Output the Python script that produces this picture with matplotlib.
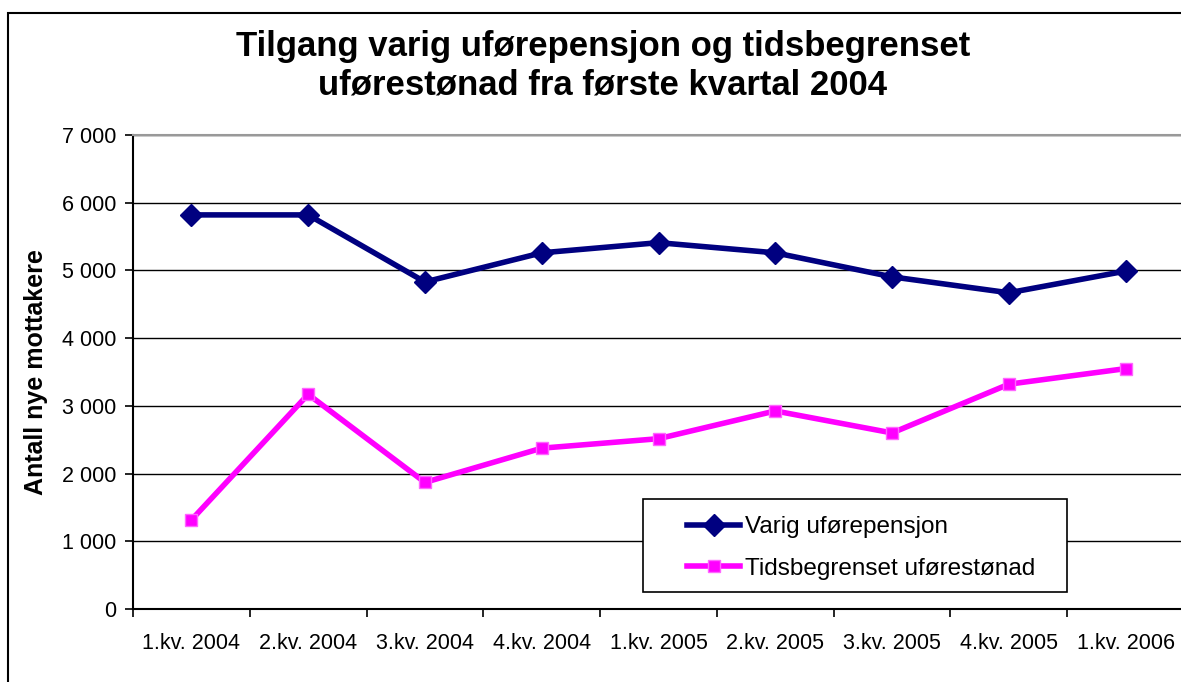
import matplotlib.pyplot as plt
from matplotlib.patches import Rectangle

plt.rcParams['font.family'] = ['Liberation Sans', 'DejaVu Sans']

quarters = ['1.kv. 2004', '2.kv. 2004', '3.kv. 2004', '4.kv. 2004', '1.kv. 2005',
            '2.kv. 2005', '3.kv. 2005', '4.kv. 2005', '1.kv. 2006']
varig = [5820, 5820, 4830, 5260, 5410, 5260, 4905, 4670, 4990]
tidsbegrenset = [1315, 3170, 1870, 2375, 2515, 2925, 2600, 3320, 3550]
y_ticks = [0, 1000, 2000, 3000, 4000, 5000, 6000, 7000]
y_labels = ['0', '1 000', '2 000', '3 000', '4 000', '5 000', '6 000', '7 000']

W, H = 1181, 682
fig = plt.figure(figsize=(W / 100, H / 100), dpi=100)

# outer chart border (cut off at right and bottom)
fig.patches.append(Rectangle((8 / W, -0.05), 1.2, 1 - 13 / H + 0.05,
                             transform=fig.transFigure, fill=False,
                             edgecolor='black', linewidth=1.5))

ax_l, ax_r, ax_t, ax_b = 133, 1184, 135, 609
ax = fig.add_axes([ax_l / W, (H - ax_b) / H, (ax_r - ax_l) / W, (ax_b - ax_t) / H])

x = list(range(len(quarters)))
ax.plot(x, varig, color='#000080', linewidth=4, marker='D', markersize=11,
        label='Varig uførepensjon', zorder=4)
ax.plot(x, tidsbegrenset, color='#FF00FF', linewidth=4, marker='s', markersize=9,
        markeredgecolor='#FF66FF', markeredgewidth=1, label='Tidsbegrenset uførestønad', zorder=4)

ax.set_xlim(-0.5, len(quarters) - 0.5)
ax.set_ylim(0, 7000)
ax.set_yticks(y_ticks)
ax.set_yticklabels(y_labels, fontsize=15.5)
ax.set_xticks(x)
ax.set_xticklabels(quarters, fontsize=15.5)
ax.set_xticks([i - 0.5 for i in range(len(quarters) + 1)], minor=True)
ax.tick_params(axis='x', which='major', length=0, pad=17)
ax.tick_params(axis='x', which='minor', length=6, width=1.2, direction='out')
ax.tick_params(axis='y', length=6, width=1.2, direction='out', pad=6)

ax.grid(axis='y', color='black', linewidth=1)
ax.set_axisbelow(True)
for side in ['left', 'bottom']:
    ax.spines[side].set_linewidth(1.5)
for side in ['top', 'right']:
    ax.spines[side].set_color('#999999')
    ax.spines[side].set_linewidth(1.5)

ax.set_ylabel('Antall nye mottakere', fontsize=18, fontweight='bold', labelpad=10)

fig.text(603 / W, 1 - 66 / H, 'Tilgang varig uførepensjon og tidsbegrenset\nuførestønad fra første kvartal 2004',
         ha='center', va='center', fontsize=25, fontweight='bold', linespacing=1.22)

# legend box drawn separately so its padding matches the reference
def to_ax(px, py):
    return (px - ax_l) / (ax_r - ax_l), (ax_b - py) / (ax_b - ax_t)

lx0, ly0 = to_ax(643, 592)
lx1, ly1 = to_ax(1067, 499)
ax.add_patch(Rectangle((lx0, ly0), lx1 - lx0, ly1 - ly0, transform=ax.transAxes,
                       facecolor='white', edgecolor='black', linewidth=1.2, zorder=5))
leg = ax.legend(loc='center left', bbox_to_anchor=(to_ax(687, 0)[0], to_ax(0, 548)[1]),
                fontsize=17.5, frameon=False, handlelength=2.2, handletextpad=0.2,
                borderpad=0, labelspacing=0.8, borderaxespad=0)
leg.set_zorder(6)

fig.savefig('out.png', dpi=100)
